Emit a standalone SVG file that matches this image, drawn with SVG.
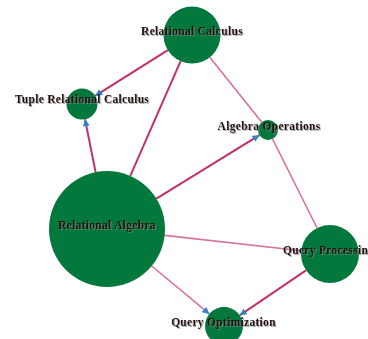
<svg xmlns="http://www.w3.org/2000/svg" width="368" height="339" viewBox="0 0 368 339">
<style>
.n{fill:#03783d}
.e1{stroke:#c2306a;stroke-width:2;fill:none}
.e2{stroke:#d9719c;stroke-width:1.6;fill:none}
.t{font-family:"Liberation Serif","Times New Roman",serif;font-weight:bold;font-size:11.5px;letter-spacing:0.3px;fill:#200808;text-anchor:middle;filter:url(#sh)}
</style>
<defs>
<marker id="ar" markerUnits="userSpaceOnUse" markerWidth="7" markerHeight="7" refX="7" refY="3.5" orient="auto"><path d="M0,0 L7,3.5 L0,7 z" fill="#2f84c8"/></marker>
<filter id="sh" x="-10%" y="-30%" width="120%" height="160%"><feDropShadow dx="1" dy="1" stdDeviation="0.6" flood-color="#888" flood-opacity="0.7"/></filter>
</defs>
<rect width="368" height="339" fill="#fff"/>
<g id="edges">
<line class="e1" x1="167.9" y1="50.1" x2="95.1" y2="95.8" marker-end="url(#ar)"/>
<line class="e1" x1="95.6" y1="172.1" x2="85" y2="119.2" marker-end="url(#ar)"/>
<line class="e1" x1="180.6" y1="61.1" x2="130.3" y2="175.9"/>
<line class="e2" x1="209.8" y1="57.3" x2="261.8" y2="122.2"/>
<line class="e1" x1="156.4" y1="198.6" x2="259.5" y2="135.2" marker-end="url(#ar)"/>
<line class="e2" x1="272.5" y1="138.9" x2="317" y2="228"/>
<line class="e2" x1="164.6" y1="235.4" x2="301.2" y2="250.8"/>
<line class="e2" x1="151.7" y1="266" x2="209.4" y2="313.9" marker-end="url(#ar)"/>
<line class="e1" x1="306" y1="270.3" x2="239.7" y2="315.3" marker-end="url(#ar)"/>
</g>
<g id="relational-calculus"><circle class="n" cx="192" cy="35" r="28.5"/><text class="t" x="192" y="35">Relational Calculus</text></g>
<g id="tuple-relational-calculus"><circle class="n" cx="82" cy="104" r="15.5"/><text class="t" x="82" y="103">Tuple Relational Calculus</text></g>
<g id="algebra-operations"><circle class="n" cx="268" cy="130" r="10"/><text class="t" x="269" y="130">Algebra Operations</text></g>
<g id="relational-algebra"><circle class="n" cx="107" cy="229" r="58"/><text class="t" x="107" y="229">Relational Algebra</text></g>
<g id="query-processing"><circle class="n" cx="330" cy="254" r="29"/><text class="t" x="283" y="254" style="text-anchor:start">Query Processing</text></g>
<g id="query-optimization"><circle class="n" cx="224" cy="326" r="19"/><text class="t" x="223.5" y="326">Query Optimization</text></g>
</svg>
